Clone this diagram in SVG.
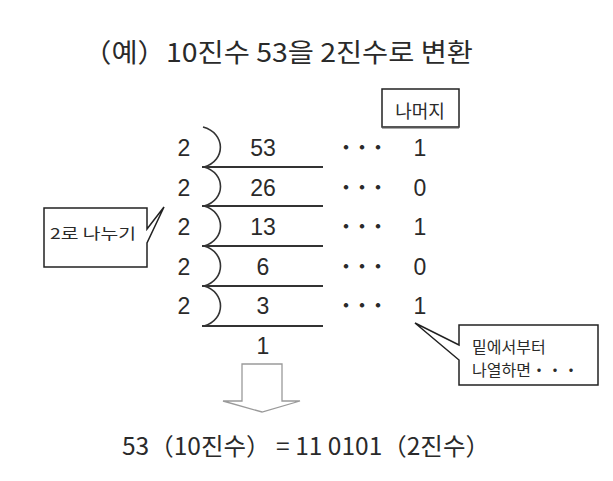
<svg xmlns="http://www.w3.org/2000/svg" width="613" height="481" viewBox="0 0 613 481">
<style>
.t{font-family:"Noto Sans CJK KR","Noto Sans",sans-serif;fill:#2a2a2a}
.n{font-family:"Liberation Sans","Noto Sans",sans-serif;font-size:23px;fill:#2a2a2a;text-anchor:middle}
.d{font-family:"Noto Sans CJK KR",sans-serif;font-size:16px;font-weight:900;fill:#2a2a2a;text-anchor:middle}
.ln{stroke:#333;stroke-width:2;fill:none}
.arc{stroke:#333;stroke-width:1.6;fill:none}
.box{fill:#fff;stroke:#222;stroke-width:1.5}
</style>
<rect width="613" height="481" fill="#fff"/>
<g id="title"><text class="t" x="83" y="62" font-size="26" textLength="390" lengthAdjust="spacingAndGlyphs">（예）10진수 53을 2진수로 변환</text></g>
<g id="remainder-label">
<rect class="box" x="382" y="89" width="77" height="38"/>
<line x1="382" y1="127.5" x2="459" y2="127.5" stroke="#555" stroke-width="2"/>
<text class="t" x="420" y="118" font-size="18" text-anchor="middle">나머지</text>
</g>
<g id="connectors">
<path class="arc" d="M203,127 C226,133 226,161 204,167 M204,167 C226,173 226,200 204,206 M204,206 C226,212 226,240 204,246 M204,246 C226,252 226,280 204,286 M204,286 C226,292 226,320 204,326"/>
<line class="ln" x1="202" y1="167" x2="323" y2="167"/>
<line class="ln" x1="202" y1="206" x2="323" y2="206"/>
<line class="ln" x1="202" y1="246" x2="323" y2="246"/>
<line class="ln" x1="202" y1="286" x2="323" y2="286"/>
<line class="ln" x1="202" y1="326" x2="323" y2="326"/>
</g>
<g id="row1"><text class="n" x="184" y="156">2</text><text class="n" x="263" y="156">53</text><text class="d" x="362" y="153">・・・</text><text class="n" x="420" y="156">1</text></g>
<g id="row2"><text class="n" x="184" y="196">2</text><text class="n" x="263" y="196">26</text><text class="d" x="362" y="193">・・・</text><text class="n" x="420" y="196">0</text></g>
<g id="row3"><text class="n" x="184" y="235">2</text><text class="n" x="263" y="235">13</text><text class="d" x="362" y="232">・・・</text><text class="n" x="420" y="235">1</text></g>
<g id="row4"><text class="n" x="184" y="275">2</text><text class="n" x="263" y="275">6</text><text class="d" x="362" y="272">・・・</text><text class="n" x="420" y="275">0</text></g>
<g id="row5"><text class="n" x="184" y="314">2</text><text class="n" x="263" y="314">3</text><text class="d" x="362" y="311">・・・</text><text class="n" x="420" y="314">1</text></g>
<g id="last"><text class="n" x="263" y="354">1</text></g>
<g id="divide-callout">
<path class="box" d="M44,208 H147 V229 L164,207 L147,243 V267 H44 Z"/>
<text class="t" x="50" y="239" font-size="15" textLength="86" lengthAdjust="spacingAndGlyphs">2로 나누기</text>
</g>
<g id="read-callout">
<path class="box" d="M459,325 H598 V385 H459 V360 L415,323 L459,345 Z"/>
<text class="t" x="472" y="353" font-size="16">밑에서부터</text>
<text class="t" x="472" y="376" font-size="16">나열하면・・・</text>
</g>
<g id="down-arrow"><path d="M242,364 H282 V401 H300 L262,412 L223,401 H242 Z" fill="#fff" stroke="#9a9a9a" stroke-width="1.3"/></g>
<g id="result"><text class="t" x="122" y="455" font-size="24" textLength="368" lengthAdjust="spacingAndGlyphs">53（10진수） = 11 0101（2진수）</text></g>
</svg>
